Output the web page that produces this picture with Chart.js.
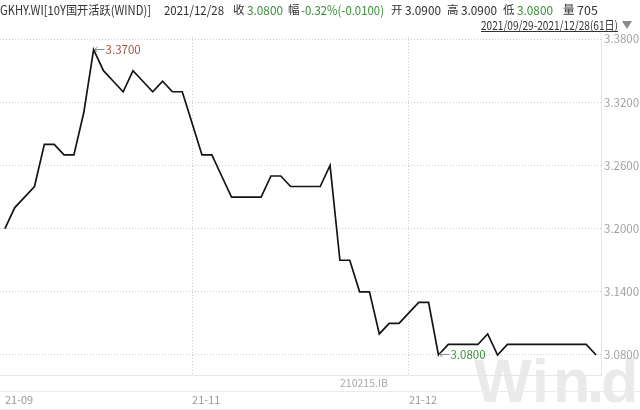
<!DOCTYPE html>
<html>
<head>
<meta charset="utf-8">
<script src="https://cdn.jsdelivr.net/npm/chart.js@4.4.0/dist/chart.umd.min.js"></script>
<style>
  html, body { margin: 0; padding: 0; background: #fff; }
  #wrap { width: 640px; height: 410px; position: relative; }
</style>
</head>
<body>
<div id="wrap"><canvas id="yieldChart"></canvas></div>
<script>
// Trading days, 2021/09/29 - 2021/12/28 (61 days)
const tradeDates = [
    '2021-09-29', '2021-09-30',
    '2021-10-08', '2021-10-09', '2021-10-11', '2021-10-12', '2021-10-13', '2021-10-14', '2021-10-15',
    '2021-10-18', '2021-10-19', '2021-10-20', '2021-10-21', '2021-10-22',
    '2021-10-25', '2021-10-26', '2021-10-27', '2021-10-28', '2021-10-29',
    '2021-11-01', '2021-11-02', '2021-11-03', '2021-11-04', '2021-11-05',
    '2021-11-08', '2021-11-09', '2021-11-10', '2021-11-11', '2021-11-12',
    '2021-11-15', '2021-11-16', '2021-11-17', '2021-11-18', '2021-11-19',
    '2021-11-22', '2021-11-23', '2021-11-24', '2021-11-25', '2021-11-26',
    '2021-11-29', '2021-11-30',
    '2021-12-01', '2021-12-02', '2021-12-03',
    '2021-12-06', '2021-12-07', '2021-12-08', '2021-12-09', '2021-12-10',
    '2021-12-13', '2021-12-14', '2021-12-15', '2021-12-16', '2021-12-17',
    '2021-12-20', '2021-12-21', '2021-12-22', '2021-12-23', '2021-12-24',
    '2021-12-27', '2021-12-28'
];

// Close yield (%)
const closeValues = [
    3.20, 3.22, 3.23, 3.24, 3.28, 3.28, 3.27, 3.27, 3.31, 3.37,
    3.35, 3.34, 3.33, 3.35, 3.34, 3.33, 3.34, 3.33, 3.33, 3.30,
    3.27, 3.27, 3.25, 3.23, 3.23, 3.23, 3.23, 3.25, 3.25, 3.24,
    3.24, 3.24, 3.24, 3.26, 3.17, 3.17, 3.14, 3.14, 3.10, 3.11,
    3.11, 3.12, 3.13, 3.13, 3.08, 3.09, 3.09, 3.09, 3.09, 3.10,
    3.08, 3.09, 3.09, 3.09, 3.09, 3.09, 3.09, 3.09, 3.09, 3.09,
    3.08
];

const yTicks = [3.08, 3.14, 3.20, 3.26, 3.32, 3.38];
const monthLabels = ['21-09', '21-11', '21-12'];

const headerTexts = ['GKHY.WI[10Y国开活跃(WIND)]', '2021/12/28', '收', '3.0800', '幅', '-0.32%(-0.0100)',
    '开', '3.0900', '高', '3.0900', '低', '3.0800', '量', '705'];
const rangeText = '2021/09/29-2021/12/28(61日)';
const bondCode = '210215.IB';

const FONT = "'Noto Sans CJK SC', 'Noto Sans', sans-serif";

// index of first trading day for each labelled month
const tickIndex = {};
monthLabels.forEach(lbl => {
    const idx = tradeDates.findIndex(d => d.startsWith('20' + lbl));
    tickIndex[idx] = lbl;
});

const extras = {
    id: 'windExtras',
    beforeDraw: (chart) => {
        const ctx = chart.ctx;
        ctx.save();
        // watermark
        ctx.fillStyle = '#eaeaea';
        ctx.font = 'bold 61px "Liberation Sans", sans-serif';
        ctx.textBaseline = 'alphabetic';
        ctx.fillText('W', 474, 402);
        ctx.fillText('i', 532, 402);
        ctx.fillText('n', 553, 402);
        ctx.fillRect(591, 392, 9, 10);
        ctx.fillText('d', 601, 402);
        ctx.restore();
    },
    afterDraw: (chart) => {
        const ctx = chart.ctx;
        ctx.save();

        // header line
        const headerX = [0, 164, 233, 247, 288, 301, 391, 405, 447, 461, 503, 517, 563, 577];
        const headerW = [151, 60, 12, 36, 12, 83, 12, 36, 12, 36, 12, 36, 12, 22];
        const greenParts = [3, 5, 11];
        ctx.textBaseline = 'middle';
        ctx.textAlign = 'left';
        headerTexts.forEach((t, i) => {
            ctx.font = (i % 2 === 0 && i > 1 ? '11.5px ' : '12.5px ') + FONT;
            ctx.fillStyle = greenParts.includes(i) ? '#3a8f3a' : '#333333';
            ctx.fillText(t, headerX[i], 10, headerW[i]);
        });

        // date range, underlined
        ctx.font = '12px ' + FONT;
        ctx.textAlign = 'right';
        ctx.fillStyle = '#333333';
        const w = Math.min(ctx.measureText(rangeText).width, 137);
        ctx.fillText(rangeText, 618, 25, 137);
        ctx.strokeStyle = '#333333';
        ctx.lineWidth = 1;
        ctx.beginPath();
        ctx.moveTo(618 - w, 31.5);
        ctx.lineTo(618, 31.5);
        ctx.stroke();
        ctx.fillStyle = '#8a8a8a';
        ctx.beginPath();
        ctx.moveTo(622, 21);
        ctx.lineTo(632, 21);
        ctx.lineTo(627, 29);
        ctx.closePath();
        ctx.fill();

        // bottom bands
        ctx.strokeStyle = '#ebebeb';
        [391.5, 409.5].forEach(y => {
            ctx.beginPath();
            ctx.moveTo(0, y);
            ctx.lineTo(640, y);
            ctx.stroke();
        });
        ctx.font = '10.5px ' + FONT;
        ctx.textAlign = 'left';
        ctx.fillStyle = '#a8a8a8';
        ctx.fillText(bondCode, 340, 383);

        // max / min tags
        const meta = chart.getDatasetMeta(0);
        const iMax = closeValues.indexOf(Math.max(...closeValues));
        const iMin = closeValues.indexOf(Math.min(...closeValues));
        const tag = (pt, text, color) => {
            const x = pt.x + 1, y = Math.round(pt.y) - 0.5;
            ctx.strokeStyle = '#8c8c8c';
            ctx.lineWidth = 1;
            ctx.beginPath();
            ctx.moveTo(x, y);
            ctx.lineTo(x + 10, y);
            ctx.moveTo(x, y);
            ctx.lineTo(x + 3, y - 2.5);
            ctx.moveTo(x, y);
            ctx.lineTo(x + 3, y + 2.5);
            ctx.stroke();
            ctx.font = '11.5px ' + FONT;
            ctx.fillStyle = color;
            ctx.textAlign = 'left';
            ctx.textBaseline = 'middle';
            ctx.fillText(text, x + 11, y);
        };
        tag(meta.data[iMax], closeValues[iMax].toFixed(4), '#9e4f48');
        tag(meta.data[iMin], closeValues[iMin].toFixed(4), '#3a8f3a');

        ctx.restore();
    }
};

new Chart(document.getElementById('yieldChart'), {
    type: 'line',
    data: {
        labels: tradeDates,
        datasets: [{
            label: 'GKHY.WI',
            data: closeValues,
            borderColor: '#141414',
            borderWidth: 1.7,
            pointRadius: 0,
            tension: 0,
            fill: false
        }]
    },
    options: {
        responsive: true,
        maintainAspectRatio: false,
        animation: false,
        layout: { padding: { top: 37, left: 0, right: 0, bottom: 0 } },
        plugins: {
            legend: { display: false },
            tooltip: { enabled: false }
        },
        scales: {
            x: {
                offset: true,
                afterFit: (s) => {
                    s.height = 35;
                    s.paddingLeft = 0;
                    s.paddingRight = 0;
                },
                ticks: {
                    autoSkip: false,
                    maxRotation: 0,
                    minRotation: 0,
                    align: 'start',
                    padding: 18,
                    color: '#9a9a9a',
                    font: { size: 11, family: FONT },
                    callback: (v, i) => tickIndex[i] || ''
                },
                grid: {
                    drawTicks: false,
                    color: (c) => (c.index > 0 && tickIndex[c.index]) ? '#cdcdcd' : 'rgba(0,0,0,0)'
                },
                border: { dash: [1, 2], color: '#e6e6e6' }
            },
            y: {
                position: 'right',
                min: 3.061,
                max: 3.382,
                afterBuildTicks: (s) => { s.ticks = yTicks.map(v => ({ value: v })); },
                afterFit: (s) => { s.width = 39; },
                ticks: {
                    padding: 3,
                    color: '#a2a2a2',
                    font: { size: 11.5, family: FONT },
                    callback: (v) => Number(v).toFixed(4)
                },
                grid: { drawTicks: false, color: '#cdcdcd' },
                border: { dash: [1, 2], color: '#e6e6e6' }
            }
        }
    },
    plugins: [extras]
});
</script>
</body>
</html>
